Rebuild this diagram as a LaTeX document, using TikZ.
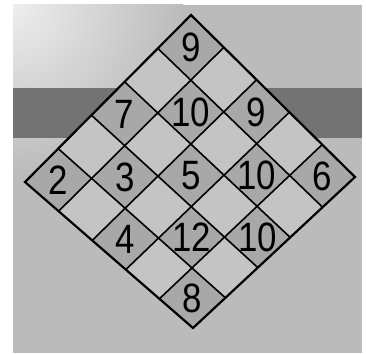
\documentclass[tikz,border=0pt]{standalone}
\usepackage{fontspec}
\setmainfont{Liberation Sans}
\usetikzlibrary{calc}
\definecolor{Sheet}{HTML}{BBBBBB}
\definecolor{Glare}{HTML}{EEEEEE}
\definecolor{Band}{HTML}{737373}
\definecolor{CellDark}{HTML}{A8A8A8}
\definecolor{CellLight}{HTML}{C4C4C4}

\begin{document}
\begin{tikzpicture}[x=1pt,y=-1pt,
    gridline/.style={line width=1.6pt},
    digit/.style={font=\fontsize{41}{42}\selectfont, inner sep=0pt, xscale=0.85}]
  \useasboundingbox (0,0) rectangle (366,353);
  % paper, glare and band
  \begin{scope}
    \clip (13,5) rectangle (362,353);
    \fill[Sheet] (13,5) rectangle (362,353);
    \shade[inner color=Glare, outer color=Sheet] (13,5) circle (170);
  \end{scope}
  \fill[Band] (13,88) rectangle (362,138);
  % diamond corners
  \coordinate (T) at (191,15);
  \coordinate (R) at (355,177);
  \coordinate (B) at (193,328);
  \coordinate (L) at (25,182);
  \fill[CellLight] (T) -- (R) -- (B) -- (L) -- cycle;
  % numbered cells
  \foreach \i/\j/\lab in {0/0/9, 0/2/7, 1/1/10, 2/0/9, 0/4/2, 1/3/3, 2/2/5,
      3/1/10, 4/0/6, 2/4/4, 3/3/12, 4/2/10, 4/4/8} {
    \pgfmathsetmacro\ua{\i/5}
    \pgfmathsetmacro\ub{(\i+1)/5}
    \pgfmathsetmacro\uc{(\i+0.5)/5}
    \pgfmathsetmacro\va{\j/5}
    \pgfmathsetmacro\vb{(\j+1)/5}
    \pgfmathsetmacro\vc{(\j+0.5)/5}
    \coordinate (pa) at ($(T)!\ua!(R)$);
    \coordinate (qa) at ($(L)!\ua!(B)$);
    \coordinate (pb) at ($(T)!\ub!(R)$);
    \coordinate (qb) at ($(L)!\ub!(B)$);
    \coordinate (pc) at ($(T)!\uc!(R)$);
    \coordinate (qc) at ($(L)!\uc!(B)$);
    \fill[CellDark] ($(pa)!\va!(qa)$) -- ($(pb)!\va!(qb)$)
      -- ($(pb)!\vb!(qb)$) -- ($(pa)!\vb!(qa)$) -- cycle;
    \node[digit] (n\i\j) at ($(pc)!\vc!(qc)$) {\lab};
  }
  % grid
  \foreach \k in {1,...,4} {
    \pgfmathsetmacro\f{\k/5}
    \draw[gridline] ($(T)!\f!(R)$) -- ($(L)!\f!(B)$);
    \draw[gridline] ($(T)!\f!(L)$) -- ($(R)!\f!(B)$);
  }
  \draw[gridline, line width=2.2pt, line join=miter] (T) -- (R) -- (B) -- (L) -- cycle;
\end{tikzpicture}
\end{document}
